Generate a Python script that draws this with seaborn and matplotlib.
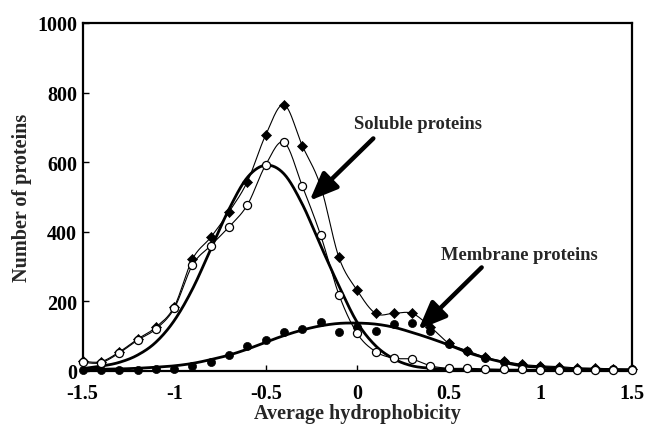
import numpy as np
import pandas as pd
import matplotlib
matplotlib.use("Agg")
import matplotlib.pyplot as plt
import seaborn as sns

# ---------------- data ----------------
hydro = [-1.5, -1.4, -1.3, -1.2, -1.1, -1.0, -0.9, -0.8, -0.7, -0.6, -0.5,
         -0.4, -0.3, -0.2, -0.1, 0.0, 0.1, 0.2, 0.3, 0.4, 0.5,
         0.6, 0.7, 0.8, 0.9, 1.0, 1.1, 1.2, 1.3, 1.4, 1.5]

soluble = [24, 23, 51, 88, 120, 179, 304, 360, 414, 477, 592,
           657, 531, 390, 219, 107, 55, 36, 33, 14, 7,
           7, 5, 4, 4, 3, 3, 2, 2, 2, 2]

membrane = [3, 3, 3, 3, 5, 5, 13, 24, 45, 70, 89,
            110, 120, 141, 111, 126, 113, 133, 138, 114, 76,
            56, 37, 25, 17, 12, 9, 6, 6, 4, 4]

total = [27, 26, 54, 91, 125, 184, 321, 384, 457, 544, 678,
         765, 647, 531, 326, 231, 165, 165, 165, 126, 79,
         58, 38, 27, 18, 14, 12, 8, 7, 5, 4]

soluble_fit = [6, 13, 24, 45, 82, 144, 235, 350, 465, 556, 591,
               566, 479, 360, 244, 139, 72, 34, 14, 7, 3,
               2, 1, 1, 1, 1, 1, 1, 1, 1, 1]

membrane_fit = [3, 4, 5, 7, 10, 14, 21, 32, 45, 62, 82,
                101, 117, 129, 136, 137, 134, 125, 110, 93, 74,
                53, 37, 24, 14, 10, 7, 5, 4, 3, 3]

x_ticks = [-1.5, -1.0, -0.5, 0.0, 0.5, 1.0, 1.5]
x_tick_labels = ["-1.5", "-1", "-0.5", "0", "0.5", "1", "1.5"]
y_ticks = [0, 200, 400, 600, 800, 1000]
y_tick_labels = ["0", "200", "400", "600", "800", "1000"]


def smooth(xs, ys, n=24):
    """Catmull-Rom rendering of a line through the given points (like a smoothed line)."""
    p = np.column_stack([xs, ys]).astype(float)
    p = np.vstack([p[0], p, p[-1]])
    out = []
    t = np.linspace(0, 1, n, endpoint=False)
    for i in range(1, len(p) - 2):
        p0, p1, p2, p3 = p[i - 1], p[i], p[i + 1], p[i + 2]
        m1 = (p2 - p0) / 2.0
        m2 = (p3 - p1) / 2.0
        h00 = 2 * t**3 - 3 * t**2 + 1
        h10 = t**3 - 2 * t**2 + t
        h01 = -2 * t**3 + 3 * t**2
        h11 = t**3 - t**2
        seg = (np.outer(h00, p1) + np.outer(h10, m1) + np.outer(h01, p2) + np.outer(h11, m2))
        out.append(seg)
    out.append(p[-2][None, :])
    out = np.vstack(out)
    return pd.DataFrame({"x": out[:, 0], "y": out[:, 1]})


sns.set_theme(style="ticks")
serif = "Liberation Serif"
plt.rcParams["font.family"] = [serif, "DejaVu Serif"]
plt.rcParams["font.weight"] = "bold"

fig = plt.figure(figsize=(6.47, 4.27), dpi=100)
ax = fig.add_axes([0.1278, 0.1295, 0.9764 - 0.1278, 0.9438 - 0.1295])

# thin smoothed lines through the data
sns.lineplot(data=smooth(hydro, total), x="x", y="y", sort=False, estimator=None,
             color="black", linewidth=0.8, ax=ax, zorder=2)
sns.lineplot(data=smooth(hydro, soluble), x="x", y="y", sort=False, estimator=None,
             color="black", linewidth=0.8, ax=ax, zorder=2)
# thick fitted curves
sns.lineplot(data=smooth(hydro, soluble_fit), x="x", y="y", sort=False, estimator=None,
             color="black", linewidth=2.0, ax=ax, zorder=3)
sns.lineplot(data=smooth(hydro, membrane_fit), x="x", y="y", sort=False, estimator=None,
             color="black", linewidth=2.0, ax=ax, zorder=3)

# markers
sns.scatterplot(x=hydro, y=total, marker="D", s=26, color="black", edgecolor="black",
                linewidth=0.5, ax=ax, zorder=4, clip_on=False)
sns.scatterplot(x=hydro, y=membrane, marker="o", s=34, color="black", edgecolor="black",
                linewidth=0.5, ax=ax, zorder=5, clip_on=False)
sns.scatterplot(x=hydro, y=soluble, marker="o", s=34, facecolor="white", edgecolor="black",
                linewidth=0.9, ax=ax, zorder=6, clip_on=False)

# annotations
arrow = dict(arrowstyle="-|>,head_length=1.7,head_width=0.7", lw=3.2, color="black",
             shrinkA=0, shrinkB=0, mutation_scale=10)
ax.annotate("", xy=(-0.26, 489), xytext=(0.088, 668), arrowprops=arrow, zorder=8)
ax.annotate("", xy=(0.334, 118), xytext=(0.68, 297), arrowprops=arrow, zorder=8)
ax.text(0.334, 711, "Soluble proteins", ha="center", va="center", fontsize=13.3,
        fontweight="bold", family=serif, zorder=9)
ax.text(0.886, 333, "Membrane proteins", ha="center", va="center", fontsize=13.3,
        fontweight="bold", family=serif, zorder=9)

ax.set_xlim(-1.5, 1.5)
ax.set_ylim(0, 1000)
ax.set_xticks(x_ticks)
ax.set_xticklabels(x_tick_labels)
ax.set_yticks(y_ticks)
ax.set_yticklabels(y_tick_labels)
for lab in ax.get_xticklabels() + ax.get_yticklabels():
    lab.set_fontweight("bold")
    lab.set_fontsize(14.5)
    lab.set_family(serif)
ax.tick_params(axis="both", direction="in", length=4.5, width=1.0, colors="black")
ax.tick_params(axis="x", pad=9)
ax.tick_params(axis="y", pad=4)
for s in ax.spines.values():
    s.set_visible(True)
    s.set_linewidth(1.6)
    s.set_color("black")

ax.set_xlabel("Average hydrophobicity", fontsize=14.5, fontweight="bold", family=serif, labelpad=0)
ax.set_ylabel("Number of proteins", fontsize=14.5, fontweight="bold", family=serif, labelpad=4)

fig.savefig("out.png", dpi=100)
